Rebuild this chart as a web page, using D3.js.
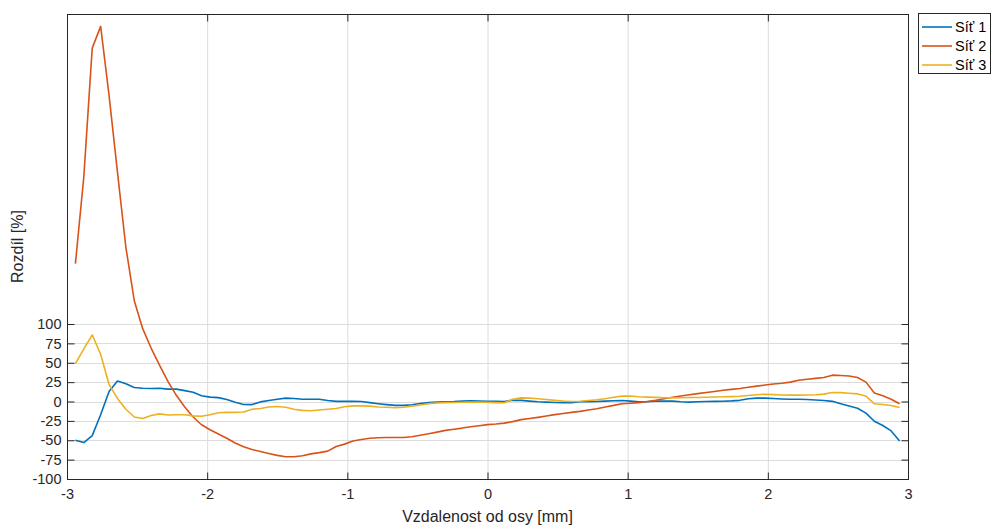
<!DOCTYPE html>
<html>
<head>
<meta charset="utf-8">
<script src="https://cdn.jsdelivr.net/npm/d3@7"></script>
<style>
  html, body { margin: 0; padding: 0; background: #fff; }
  svg { display: block; font-family: "Liberation Sans", Arial, Helvetica, sans-serif; }
</style>
</head>
<body>
<svg id="chart" width="994" height="527"></svg>
<script>
const xValues = [-2.94,-2.88,-2.82,-2.76,-2.70,-2.64,-2.58,-2.52,-2.46,-2.40,
  -2.34,-2.28,-2.22,-2.16,-2.10,-2.04,-1.98,-1.92,-1.86,-1.80,
  -1.74,-1.68,-1.62,-1.56,-1.50,-1.44,-1.38,-1.32,-1.26,-1.20,
  -1.14,-1.08,-1.02,-0.96,-0.90,-0.84,-0.78,-0.72,-0.66,-0.60,
  -0.54,-0.48,-0.42,-0.36,-0.30,-0.24,-0.18,-0.12,-0.06,0.00,
  0.06,0.12,0.18,0.24,0.30,0.36,0.42,0.48,0.54,0.60,
  0.66,0.72,0.78,0.84,0.90,0.96,1.02,1.08,1.14,1.20,
  1.26,1.32,1.38,1.44,1.50,1.56,1.62,1.68,1.74,1.80,
  1.86,1.92,1.98,2.04,2.10,2.16,2.22,2.28,2.34,2.40,
  2.46,2.52,2.58,2.64,2.70,2.76,2.82,2.88,2.94];

const sit1 = [-50,-53,-44,-17,13,26.5,23,18,17,16.8,
  17,16,16,14,12,7.5,5.6,5,2.5,-1,
  -3.9,-4,-0.5,1.3,3,4.3,3.8,3,3,3,
  1.2,0.2,0.2,0.2,0,-1.5,-2.8,-4,-5,-5,
  -4.2,-2.6,-1.5,-0.7,-0.5,-0.2,0.5,0.9,0.6,0.4,
  0.2,0,1.7,1.4,0.5,-0.3,-0.8,-1.3,-1.6,-1.6,
  -0.4,-0.2,0,0.5,1,1.2,0.5,-0.5,-0.4,0.5,
  0.7,0.5,-0.3,-0.8,-0.4,0,0.2,0.4,0.8,1.5,
  3.5,4.3,4.3,3.8,3.3,3,3,2.6,2,1.2,
  0.2,-3,-5.8,-8.7,-15,-25.5,-31,-38,-51];

const sit2 = [178,290,456,484,395,296,199,130,94,69,
  47,26,8,-7,-20,-30,-36.5,-42,-47.5,-53.5,
  -58.5,-62,-64.5,-67,-69.5,-71.2,-71.2,-70,-67.6,-66,
  -64,-58,-55,-51,-49,-47.5,-46.8,-46.5,-46.5,-46.5,
  -45.5,-43.5,-41.6,-39.5,-37.3,-35.7,-34.3,-32.6,-31.3,-29.8,
  -29,-27.9,-26,-23.4,-22,-20.5,-18.8,-16.9,-15.4,-14,
  -12.7,-11,-9.3,-7.2,-5,-3,-2.3,-1.4,0,1.5,
  3.6,5.5,7,8.7,10.2,11.6,13,14.5,15.6,16.8,
  18.3,19.8,21.2,22.5,23.5,25,27.4,28.7,29.8,31,
  34,33.5,33,31,25,11,7.3,3,-3];

const sit3 = [49,68,86,61,22,4,-10,-20,-22,-18,
  -16,-17.5,-17,-17,-18.5,-19,-17,-14.5,-14,-14,
  -13.5,-10,-9,-7,-6.5,-7.5,-10,-11.5,-12,-11,
  -10,-9,-6.8,-5.6,-5.6,-6,-7,-7.5,-8,-7.5,
  -6.2,-4.5,-2.8,-2,-1.4,-1.2,-1,-0.9,-0.9,-0.9,
  -1.4,-1.7,3,4.7,4.4,3.5,2.6,1.5,0.5,0,
  0.4,1.2,2.2,3.5,5.5,6.9,7,6.1,5.6,5.3,
  4.9,4.7,4.8,5.1,5.2,5.5,5.9,6.1,6.3,6.7,
  7.8,8.8,9.4,8.9,8.3,8.2,8.2,8.4,8.8,9.5,
  11.5,11.5,10.6,9.8,7,-3,-3.9,-5.2,-7.8];

const seriesNames = ["Síť 1", "Síť 2", "Síť 3"];
const seriesColors = ["#0072BD", "#D95319", "#EDB120"];
const xTicks = [-3, -2, -1, 0, 1, 2, 3];
const yTicks = [-100, -75, -50, -25, 0, 25, 50, 75, 100];
const xDomain = [-3, 3];
const yDomain = [-100, 500];
const xLabel = "Vzdalenost od osy [mm]";
const yLabel = "Rozdíl [%]";

const svg = d3.select("#chart");
const L = 67, R = 908, T = 14, B = 479;
const axisColor = "#262626";
const fmt = d => String(d);

const x = d3.scaleLinear().domain(xDomain).range([L, R]);
const y = d3.scaleLinear().domain(yDomain).range([B, T]);

// grid
const grid = svg.append("g");
grid.selectAll("line.vg").data(xTicks.filter(d => d > xDomain[0] && d < xDomain[1]))
  .enter().append("line")
  .attr("x1", d => x(d) + 0.5).attr("x2", d => x(d) + 0.5)
  .attr("y1", T).attr("y2", B)
  .attr("stroke", "#dcdcdc").attr("stroke-width", 1);
grid.selectAll("line.hg").data(yTicks.filter(d => d > yDomain[0]))
  .enter().append("line")
  .attr("x1", L).attr("x2", R)
  .attr("y1", d => Math.round(y(d)) + 0.5).attr("y2", d => Math.round(y(d)) + 0.5)
  .attr("stroke", "#dcdcdc").attr("stroke-width", 1);

// lines
const allSeries = [sit1, sit2, sit3];
const line = d3.line().x((d, i) => x(xValues[i])).y(d => y(d));
svg.append("clipPath").attr("id", "clip").append("rect")
  .attr("x", L).attr("y", T).attr("width", R - L).attr("height", B - T);
svg.append("g").attr("clip-path", "url(#clip)")
  .selectAll("path").data(allSeries).enter().append("path")
  .attr("d", d => line(d))
  .attr("fill", "none")
  .attr("stroke", (d, i) => seriesColors[i])
  .attr("stroke-width", 1.6)
  .attr("stroke-linejoin", "round");

// axes (ticks inward)
const fontSize = 14.5;
const xAxisB = d3.axisBottom(x).tickValues(xTicks).tickFormat(fmt).tickSizeInner(-7).tickSizeOuter(0);
const gxb = svg.append("g").attr("transform", `translate(0,${B + 0.5})`).call(xAxisB);
const xAxisT = d3.axisTop(x).tickValues(xTicks).tickSizeInner(-7).tickSizeOuter(0).tickFormat("");
const gxt = svg.append("g").attr("transform", `translate(0,${T + 0.5})`).call(xAxisT);
const yAxisL = d3.axisLeft(y).tickValues(yTicks).tickFormat(fmt).tickSizeInner(-7).tickSizeOuter(0).tickPadding(13);
const gyl = svg.append("g").attr("transform", `translate(${L + 0.5},0)`).call(yAxisL);
const yAxisR = d3.axisRight(y).tickValues(yTicks).tickSizeInner(-7).tickSizeOuter(0).tickFormat("");
const gyr = svg.append("g").attr("transform", `translate(${R + 0.5},0)`).call(yAxisR);

[gxb, gxt, gyl, gyr].forEach(g => {
  g.select(".domain").remove();
  g.selectAll(".tick line").attr("stroke", axisColor).attr("stroke-width", 1);
  g.selectAll(".tick text").attr("fill", axisColor)
    .style("font-size", fontSize + "px")
    .style("font-family", '"Liberation Sans", Arial, sans-serif');
});
gxb.selectAll(".tick text").attr("y", 9).attr("dy", "0.71em");
gyl.selectAll(".tick text").attr("x", -6);

// box
svg.append("rect").attr("x", L + 0.5).attr("y", T + 0.5)
  .attr("width", R - L).attr("height", B - T)
  .attr("fill", "none").attr("stroke", axisColor).attr("stroke-width", 1);

// labels
svg.append("text").attr("x", (L + R) / 2).attr("y", 522)
  .attr("text-anchor", "middle").attr("fill", axisColor)
  .style("font-size", "16px").text(xLabel);
svg.append("text")
  .attr("transform", `translate(23,${(T + B) / 2}) rotate(-90)`)
  .attr("text-anchor", "middle").attr("fill", axisColor)
  .style("font-size", "16px").text(yLabel);

// legend
const lg = svg.append("g");
lg.append("rect").attr("x", 918.5).attr("y", 13.5).attr("width", 72).attr("height", 60)
  .attr("fill", "#fff").attr("stroke", axisColor).attr("stroke-width", 1);
seriesNames.forEach((name, i) => {
  const yy = 27 + i * 19;
  lg.append("line").attr("x1", 922).attr("x2", 952).attr("y1", yy).attr("y2", yy)
    .attr("stroke", seriesColors[i]).attr("stroke-width", 1.6);
  lg.append("text").attr("x", 955).attr("y", yy).attr("dy", "0.35em")
    .attr("fill", "#000").style("font-size", "14.5px").text(name);
});
</script>
</body>
</html>
